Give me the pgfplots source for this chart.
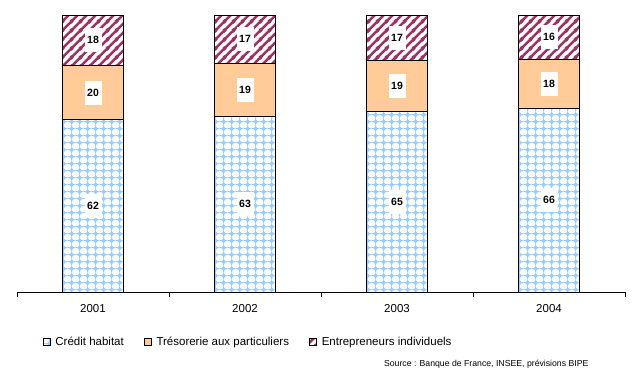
\documentclass[border=0pt]{standalone}
\usepackage{pgfplots}
\pgfplotsset{compat=1.18}
\usepackage{fontspec}
\setmainfont{Liberation Sans}
\usetikzlibrary{patterns}
\definecolor{cblue}{HTML}{99CCFF}
\definecolor{corange}{HTML}{FFCC99}
\definecolor{cplum}{HTML}{993366}
\pgfdeclarepatterninherentlycolored{diamc}{\pgfpointorigin}{\pgfpoint{7.6pt}{6.8pt}}{\pgfpoint{7.6pt}{6.8pt}}{%
  \pgfsetfillcolor{white}%
  \pgfpathrectangle{\pgfpointorigin}{\pgfpoint{7.6pt}{6.8pt}}%
  \pgfusepath{fill}%
  \pgfsetfillcolor{cblue}%
  \pgfpathmoveto{\pgfpoint{3.8pt}{0.9pt}}%
  \pgfpathlineto{\pgfpoint{6.5pt}{3.4pt}}%
  \pgfpathlineto{\pgfpoint{3.8pt}{5.9pt}}%
  \pgfpathlineto{\pgfpoint{1.1pt}{3.4pt}}%
  \pgfpathclose
  \pgfpathrectangle{\pgfpoint{0pt}{2.95pt}}{\pgfpoint{7.6pt}{0.9pt}}%
  \pgfpathrectangle{\pgfpoint{3.35pt}{0pt}}{\pgfpoint{0.9pt}{6.8pt}}%
  \pgfusepath{fill}}
\pgfdeclarepatterninherentlycolored{hatchc}{\pgfpointorigin}{\pgfpoint{9pt}{9pt}}{\pgfpoint{9pt}{9pt}}{%
  \pgfsetfillcolor{white}%
  \pgfpathrectangle{\pgfpointorigin}{\pgfpoint{9pt}{9pt}}%
  \pgfusepath{fill}%
  \pgfsetstrokecolor{cplum}%
  \pgfsetlinewidth{2.7pt}%
  \pgfpathmoveto{\pgfpoint{-1pt}{-1pt}}\pgfpathlineto{\pgfpoint{10pt}{10pt}}%
  \pgfpathmoveto{\pgfpoint{-1pt}{8pt}}\pgfpathlineto{\pgfpoint{1pt}{10pt}}%
  \pgfpathmoveto{\pgfpoint{8pt}{-1pt}}\pgfpathlineto{\pgfpoint{10pt}{1pt}}%
  \pgfusepath{stroke}}
\begin{document}
\begin{tikzpicture}
\path[use as bounding box] (0,0) rectangle (636pt,381pt);
\begin{axis}[
  at={(17pt,89pt)}, anchor=south west, scale only axis,
  width=608pt, height=277pt,
  xmin=-0.5, xmax=3.5, ymin=0, ymax=100,
  ybar stacked, bar width=61pt,
  axis x line*=bottom, axis y line=none,
  x axis line style={-, line width=1pt},
  xtick={0,1,2,3}, xticklabels={2001,2002,2003,2004},
  minor xtick={-0.5,0.5,1.5,2.5,3.5},
  major tick length=0pt, minor tick length=5pt, tick align=outside,
  every tick/.style={black, line width=1pt},
  xticklabel style={font=\fontsize{11.5}{13}\selectfont, yshift=-9pt},
  /pgf/number format/assume math mode=true,
  clip=false,
  legend columns=3,
  legend cell align=left,
  legend style={draw=none, fill=none, inner sep=0pt,
    at={(0.042,-0.1805)}, anchor=west,
    font=\fontsize{11.5}{13}\selectfont,
    /tikz/every odd column/.append style={column sep=3pt},
    /tikz/every even column/.append style={column sep=18pt}},
  legend image code/.code={\draw[#1, line width=0.7pt] (0pt,-3.5pt) rectangle (7pt,3.5pt);},
]
\addplot[draw=black, line width=1pt, pattern=diamc]
  coordinates {(0,62.1) (1,63.3) (2,65.1) (3,66.3)};
\addplot[draw=black, line width=1pt, fill=corange]
  coordinates {(0,19.8) (1,19.3) (2,18.3) (3,17.7)};
\addplot[draw=black, line width=1pt, pattern=hatchc]
  coordinates {(0,18.1) (1,17.4) (2,16.6) (3,16.0)};
\legend{Crédit habitat, Trésorerie aux particuliers, Entrepreneurs individuels}
\node[anchor=east, font=\fontsize{8.7}{10}\selectfont] at (axis description cs:0.9457,-0.26)
  {Source : Banque de France, INSEE, prévisions BIPE};
\end{axis}
\begin{axis}[
  at={(17pt,89pt)}, anchor=south west, scale only axis,
  width=608pt, height=277pt,
  xmin=-0.5, xmax=3.5, ymin=0, ymax=100,
  hide axis, clip=false]
\addplot[draw=none, mark=none, nodes near coords, point meta=explicit symbolic,
  nodes near coords style={anchor=center, fill=white, inner sep=0pt,
    minimum width=17pt, minimum height=24pt,
    font=\bfseries\fontsize{10.5}{12}\selectfont}]
  coordinates {
  (0,31.05) [62] (1,31.65) [63] (2,32.55) [65] (3,33.15) [66]
  (0,72.0) [20] (1,72.95) [19] (2,74.25) [19] (3,75.15) [18]
  (0,90.95) [18] (1,91.3) [17] (2,91.7) [17] (3,92.0) [16]
  };
\end{axis}
\end{tikzpicture}
\end{document}
